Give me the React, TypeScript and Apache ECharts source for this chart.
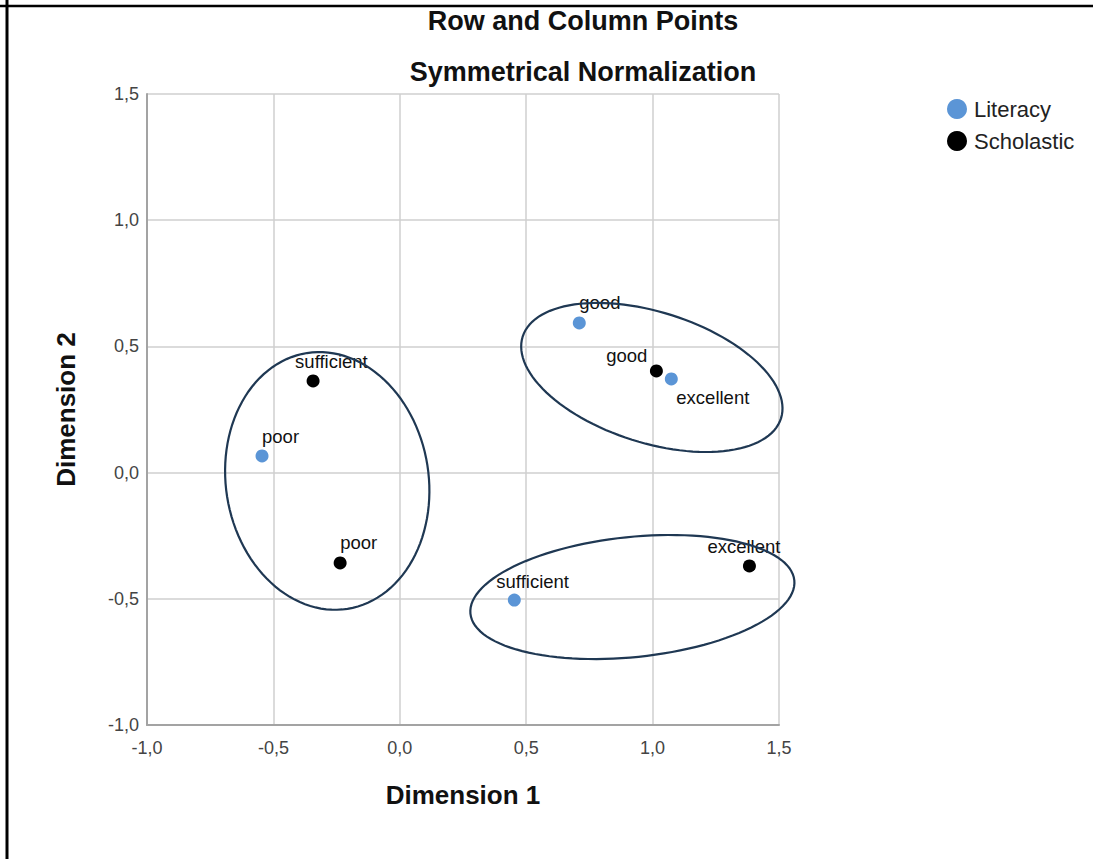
import React, { useEffect, useRef } from "react";
import * as echarts from "echarts";

// ---- data ----
const literacyNames = ["good", "excellent", "poor", "sufficient"];
const literacyDim1 = [0.71, 1.074, -0.545, 0.453];
const literacyDim2 = [0.593, 0.371, 0.066, -0.505];

const scholasticNames = ["good", "sufficient", "poor", "excellent"];
const scholasticDim1 = [1.015, -0.343, -0.236, 1.383];
const scholasticDim2 = [0.403, 0.363, -0.358, -0.37];

const axisTicks = [-1.0, -0.5, 0.0, 0.5, 1.0, 1.5];

// hand-drawn grouping ellipses (data units): centre, semi-axes, rotation (deg)
const ellipseCx = [-0.287, 0.997, 0.92];
const ellipseCy = [-0.033, 0.377, -0.493];
const ellipseRx = [0.401, 0.536, 0.644];
const ellipseRy = [0.513, 0.259, 0.238];
const ellipseAngle = [9, -17.6, 5.9];

// ---- label placement (style only) ----
const literacyLabelPlacement: [string, number, number][] = [
  ["left", 0, -20],
  ["left", 5, 19],
  ["left", 0, -19],
  ["left", -18, -19],
];
const scholasticLabelPlacement: [string, number, number][] = [
  ["right", -9, -15],
  ["left", -18, -19],
  ["left", 0, -20],
  ["left", -42, -19],
];

const BLUE = "#5b95d6";
const FONT = "'Liberation Sans', Arial, sans-serif";

function buildPoints(
  names: string[],
  xs: number[],
  ys: number[],
  placement: [string, number, number][]
) {
  return names.map((n, i) => ({
    name: n,
    value: [xs[i], ys[i]],
    label: {
      show: true,
      formatter: n,
      position: "inside",
      align: placement[i][0],
      verticalAlign: "middle",
      offset: [placement[i][1], placement[i][2]],
    },
  }));
}

const fmt = (v: number) => v.toFixed(1).replace(".", ",");

export default function App() {
  const ref = useRef<HTMLDivElement>(null);
  useEffect(() => {
    if (!ref.current) return;
    const chart = echarts.init(ref.current, undefined, { renderer: "svg" });
    const ellipseData = ellipseCx.map((cx, i) => [
      cx,
      ellipseCy[i],
      ellipseRx[i],
      ellipseRy[i],
      ellipseAngle[i],
    ]);
    const tickMin = axisTicks[0];
    const tickMax = axisTicks[axisTicks.length - 1];
    const tickStep = axisTicks[1] - axisTicks[0];
    const axisCommon = {
      type: "value",
      min: tickMin,
      max: tickMax,
      interval: tickStep,
      axisLine: { show: true, onZero: false, lineStyle: { color: "#a3a3a3", width: 2 } },
      axisTick: { show: false },
      splitLine: { show: true, lineStyle: { color: "#cfcfcf", width: 1.5 } },
      nameTextStyle: { fontFamily: FONT, fontSize: 26, fontWeight: "bold", color: "#111" },
    };
    chart.setOption({
      animation: false,
      backgroundColor: "#ffffff",
      graphic: [
        { type: "line", shape: { x1: 7, y1: 0, x2: 7, y2: 900 }, style: { stroke: "#000", lineWidth: 3 } },
        { type: "line", shape: { x1: 0, y1: 6, x2: 1093, y2: 6 }, style: { stroke: "#000", lineWidth: 2.5 } },
        {
          type: "text",
          x: 583,
          y: 21,
          style: {
            text: "Row and Column Points",
            fontFamily: FONT,
            fontSize: 27,
            fontWeight: "bold",
            fill: "#111",
            align: "center",
            verticalAlign: "middle",
          },
        },
        {
          type: "text",
          x: 583,
          y: 72,
          style: {
            text: "Symmetrical Normalization",
            fontFamily: FONT,
            fontSize: 27,
            fontWeight: "bold",
            fill: "#111",
            align: "center",
            verticalAlign: "middle",
          },
        },
      ],
      grid: { left: 147, top: 94, width: 632, height: 631, containLabel: false },
      legend: {
        orient: "vertical",
        left: 947,
        top: 98,
        itemWidth: 20,
        itemHeight: 20,
        itemGap: 10,
        icon: "circle",
        padding: 0,
        data: ["Literacy", "Scholastic"],
        itemStyle: { opacity: 1 },
        textStyle: { fontFamily: FONT, fontSize: 22, color: "#222", padding: [0, 0, 0, 2] },
      },
      xAxis: {
        ...axisCommon,
        name: "Dimension 1",
        nameLocation: "middle",
        nameGap: 57,
        axisLabel: { fontFamily: FONT, fontSize: 18, color: "#444", margin: 14, formatter: fmt },
      },
      yAxis: {
        ...axisCommon,
        name: "Dimension 2",
        nameLocation: "middle",
        nameGap: 68,
        axisLabel: {
          fontFamily: FONT,
          fontSize: 18,
          color: "#444",
          margin: 8,
          padding: [8, 0, 0, 0],
          formatter: fmt,
        },
      },
      series: [
        {
          name: "Literacy",
          type: "scatter",
          symbol: "circle",
          symbolSize: 13,
          itemStyle: { color: BLUE, opacity: 1 },
          label: { fontFamily: FONT, fontSize: 18.5, color: "#111" },
          data: buildPoints(literacyNames, literacyDim1, literacyDim2, literacyLabelPlacement),
          z: 3,
        },
        {
          name: "Scholastic",
          type: "scatter",
          symbol: "circle",
          symbolSize: 13,
          itemStyle: { color: "#000", opacity: 1 },
          label: { fontFamily: FONT, fontSize: 18.5, color: "#111" },
          data: buildPoints(scholasticNames, scholasticDim1, scholasticDim2, scholasticLabelPlacement),
          z: 3,
        },
        {
          name: "groups",
          type: "custom",
          silent: true,
          clip: false,
          z: 4,
          encode: { x: 0, y: 1 },
          data: ellipseData,
          renderItem: (params: any, api: any) => {
            const cx = api.value(0);
            const cy = api.value(1);
            const rx = api.value(2);
            const ry = api.value(3);
            const a = (api.value(4) * Math.PI) / 180;
            const pts: number[][] = [];
            const N = 120;
            for (let k = 0; k < N; k++) {
              const t = (k / N) * Math.PI * 2;
              const ex = rx * Math.cos(t);
              const ey = ry * Math.sin(t);
              const x = cx + ex * Math.cos(a) - ey * Math.sin(a);
              const y = cy + ex * Math.sin(a) + ey * Math.cos(a);
              pts.push(api.coord([x, y]));
            }
            return {
              type: "polygon",
              shape: { points: pts },
              style: { fill: "none", stroke: "#1f3853", lineWidth: 2.2 },
            };
          },
        },
      ],
    });
    return () => chart.dispose();
  }, []);
  return (
    <div
      ref={ref}
      style={{ position: "absolute", left: 0, top: 0, width: 1093, height: 859 }}
    />
  );
}
